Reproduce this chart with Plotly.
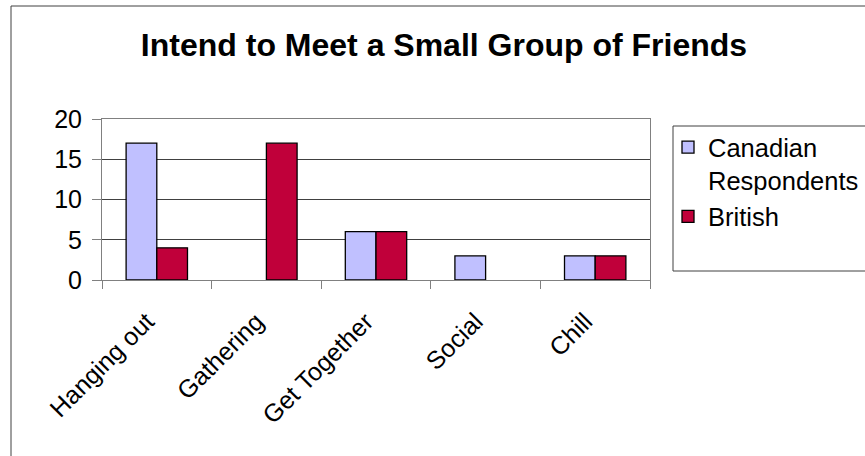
import plotly.graph_objects as go

categories = ["Hanging out", "Gathering", "Get Together", "Social", "Chill"]
canadian = [17, 0, 6, 3, 3]
british = [4, 17, 6, 0, 3]
series_names = ["Canadian<br>Respondents", "British"]
y_ticks = [0, 5, 10, 15, 20]

W, H = 865, 456
L, R, T, B = 102, 650, 119, 280  # plot area in pixels

def px_x(x):
    return (x - L) / (R - L)

def px_y(y):
    return (B - y) / (B - T)

def outline_widths(values):
    # empty bars get no outline so nothing is drawn at zero
    return [1.3 if v else 0 for v in values]

FONT = "Arial, Liberation Sans, sans-serif"

fig = go.Figure()
fig.add_trace(go.Bar(x=categories, y=canadian, name=series_names[0],
                     marker=dict(color="#C0C0FF",
                                 line=dict(color="#000000", width=outline_widths(canadian)))))
fig.add_trace(go.Bar(x=categories, y=british, name=series_names[1],
                     marker=dict(color="#C0003A",
                                 line=dict(color="#000000", width=outline_widths(british)))))

fig.update_layout(
    width=W, height=H,
    margin=dict(l=L, r=W - R, t=T, b=H - B, pad=0, autoexpand=False),
    paper_bgcolor="white", plot_bgcolor="white",
    barmode="group", bargap=0.44, bargroupgap=0,
    font=dict(family=FONT, size=25, color="black"),
    title=dict(text="<b>Intend to Meet a Small Group of Friends</b>",
               x=444 / W, xanchor="center", y=1 - 45 / H, yanchor="middle",
               font=dict(family=FONT, size=32, color="black")),
    showlegend=True,
    legend=dict(x=px_x(668), xanchor="left", y=px_y(124), yanchor="top",
                valign="top", bgcolor="rgba(0,0,0,0)", borderwidth=0,
                font=dict(family=FONT, size=25.5, color="black"),
                tracegroupgap=4),
    xaxis=dict(type="category", tickson="boundaries", ticks="outside", ticklen=8,
               tickcolor="#808080", showline=True, linecolor="#808080", linewidth=1,
               mirror=True, tickangle=-45, showgrid=False,
               ticklabelstandoff=16, ticklabelshift=-10,
               tickfont=dict(family=FONT, size=25, color="black")),
    yaxis=dict(range=[0, 20], tickvals=y_ticks, ticks="outside", ticklen=9,
               tickcolor="#808080", showline=True, linecolor="#808080", linewidth=1,
               mirror=True, showgrid=True, gridcolor="#404040", gridwidth=1,
               zeroline=False, ticklabelstandoff=5,
               tickfont=dict(family=FONT, size=25, color="black")),
    shapes=[
        # outer chart frame
        dict(type="rect", xref="paper", yref="paper",
             x0=px_x(11), y0=px_y(470), x1=px_x(880), y1=px_y(6),
             line=dict(color="#404040", width=1), fillcolor="rgba(0,0,0,0)"),
        # legend box
        dict(type="rect", xref="paper", yref="paper",
             x0=px_x(673), y0=px_y(271), x1=px_x(880), y1=px_y(126),
             line=dict(color="#404040", width=1), fillcolor="rgba(0,0,0,0)"),
    ],
)

fig.write_html("out.html")
